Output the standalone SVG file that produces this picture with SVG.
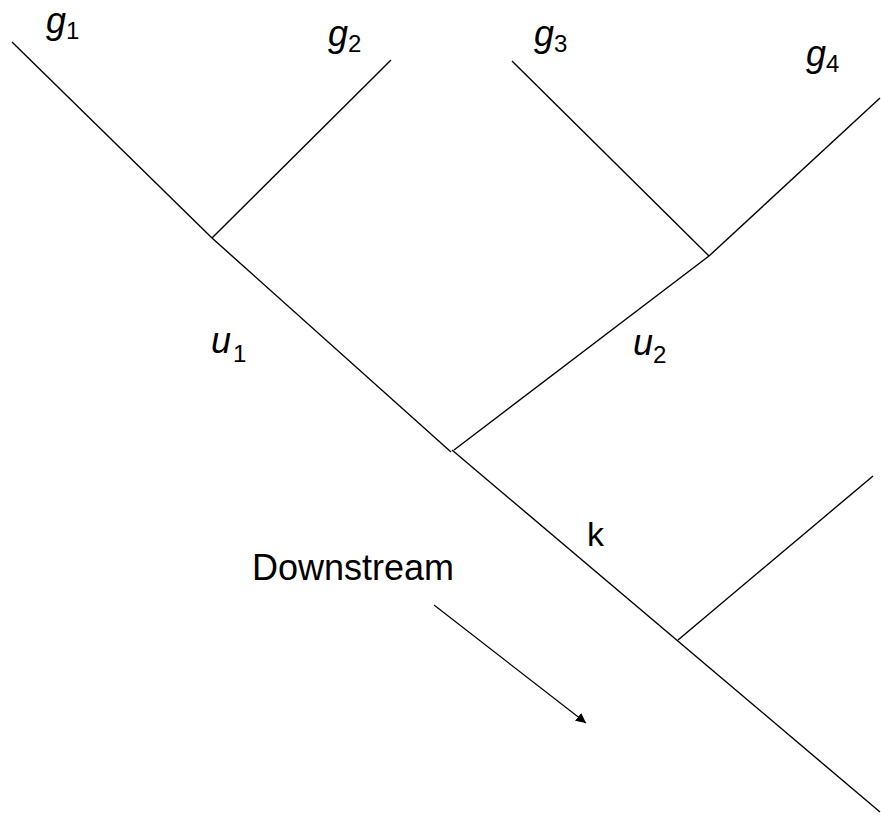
<svg xmlns="http://www.w3.org/2000/svg" width="881" height="822" viewBox="0 0 881 822">
<defs>
<style>
.ln{stroke:#000;stroke-width:1.4;fill:none;stroke-linecap:butt}
.t{font-family:"Liberation Sans",Arial,sans-serif;fill:#000}
.m{font-style:italic;font-size:36px}
.s{font-size:24px}
</style>
<marker id="ah" viewBox="0 0 10 10" refX="10" refY="5" markerWidth="10" markerHeight="10" markerUnits="userSpaceOnUse" orient="auto">
<path d="M0,0 L10,5 L0,10 z" fill="#000"/>
</marker>
</defs>
<rect width="881" height="822" fill="#fff"/>
<g id="connectors">
<line class="ln" x1="12" y1="42" x2="212" y2="238"/>
<line class="ln" x1="391" y1="60" x2="212" y2="238"/>
<line class="ln" x1="212" y1="238" x2="451" y2="452"/>
<line class="ln" x1="512" y1="61" x2="709" y2="256"/>
<line class="ln" x1="880" y1="98" x2="709" y2="256"/>
<line class="ln" x1="709" y1="256" x2="454" y2="450"/>
<line class="ln" x1="452" y1="450" x2="880" y2="812"/>
<line class="ln" x1="873" y1="476" x2="678" y2="640"/>
<line class="ln" x1="434" y1="605" x2="586" y2="723" marker-end="url(#ah)" style="stroke-width:1.2"/>
</g>
<g id="g1"><text class="t m" x="46" y="33">g</text><text class="t s" x="66" y="39">1</text></g>
<g id="g2"><text class="t m" x="328" y="46">g</text><text class="t s" x="348" y="52">2</text></g>
<g id="g3"><text class="t m" x="534" y="46">g</text><text class="t s" x="554" y="52">3</text></g>
<g id="g4"><text class="t m" x="806" y="66">g</text><text class="t s" x="826" y="72">4</text></g>
<g id="u1"><text class="t m" x="211" y="353">u</text><text class="t s" x="233" y="362">1</text></g>
<g id="u2"><text class="t m" x="633" y="355">u</text><text class="t s" x="653" y="363">2</text></g>
<g id="k"><text class="t" x="587" y="546" font-size="34">k</text></g>
<g id="downstream"><text class="t" x="252" y="580" font-size="36">Downstream</text></g>
</svg>
